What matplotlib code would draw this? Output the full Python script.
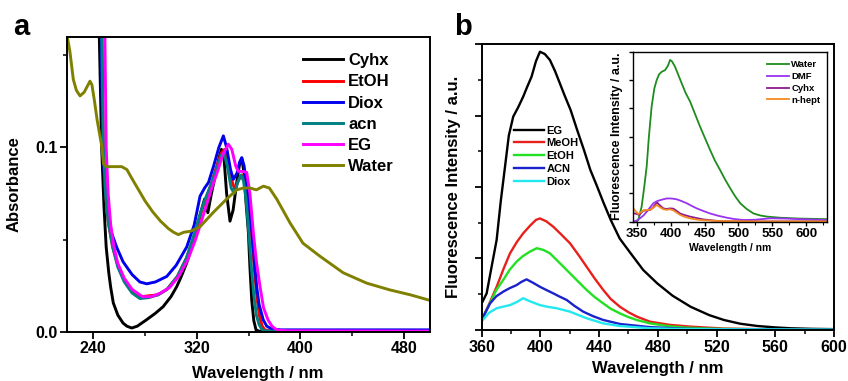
import numpy as np
import matplotlib
matplotlib.use('Agg')
import matplotlib.pyplot as plt
from matplotlib.ticker import MultipleLocator, NullFormatter

plt.rcParams['font.family'] = ['Liberation Sans', 'DejaVu Sans']
plt.rcParams['font.weight'] = 'bold'

# ---- panel a : absorbance ----
cyhx_x = [243, 244.7, 246.5, 248.3, 250, 252, 253.5, 255.5, 259, 263, 266, 269.7, 274, 281, 288, 294, 300, 304.5,
          308, 312, 316, 320, 323.5, 326, 328.5, 331, 334, 337, 339, 341, 343, 345.6, 348, 351, 353, 354.7, 356.5,
          358, 359.8, 361, 362.4, 364, 365.7, 368, 380, 420, 500]
cyhx_y = [0.20, 0.16, 0.10, 0.068, 0.046, 0.032, 0.024, 0.0156, 0.009, 0.0047, 0.003, 0.002, 0.003, 0.0064, 0.010,
          0.0136, 0.019, 0.0245, 0.030, 0.037, 0.046, 0.056, 0.066, 0.072, 0.0646, 0.074, 0.084, 0.094, 0.099, 0.094,
          0.075, 0.060, 0.066, 0.082, 0.091, 0.094, 0.086, 0.070, 0.054, 0.035, 0.017, 0.006, 0.001, 0.0003, 0, 0, 0]

etoh_x = [245.8, 246.8, 247.8, 249.5, 251.5, 255, 259, 264, 270, 277, 283, 290, 297, 305, 312, 318, 323, 327, 331,
          335, 339, 341.5, 344, 347, 349.5, 352, 354.5, 356.5, 358.5, 360.5, 362.5, 364.5, 366.5, 368.5, 370.5,
          372.5, 376, 385, 500]
etoh_y = [0.20, 0.16, 0.10, 0.075, 0.060, 0.046, 0.036, 0.028, 0.022, 0.019, 0.0195, 0.020, 0.023, 0.030, 0.040,
          0.052, 0.064, 0.072, 0.080, 0.089, 0.097, 0.099, 0.093, 0.082, 0.077, 0.082, 0.085, 0.084, 0.078, 0.066,
          0.050, 0.033, 0.018, 0.008, 0.003, 0.001, 0.0005, 0.0003, 0]

diox_x = [245, 246.2, 247.3, 249, 251, 254, 258, 263, 270, 276, 281.3, 288, 296.8, 304, 312.2, 318, 322.5, 326,
          329, 333, 337, 340.5, 343, 346, 348.2, 351, 353, 354.7, 356.5, 358, 359.8, 362, 364, 366.2, 368, 371.3,
          374, 377.8, 385, 420, 500]
diox_y = [0.20, 0.16, 0.10, 0.080, 0.066, 0.054, 0.046, 0.038, 0.031, 0.027, 0.026, 0.027, 0.030, 0.036, 0.046,
          0.058, 0.0736, 0.078, 0.081, 0.090, 0.100, 0.1063, 0.100, 0.088, 0.0827, 0.086, 0.092, 0.0945, 0.090,
          0.082, 0.072, 0.058, 0.042, 0.0245, 0.015, 0.0064, 0.003, 0.0015, 0.001, 0.001, 0.001]

acn_x = [245.5, 246.6, 247.8, 249.5, 251.5, 255, 259, 264, 270, 276, 283, 290, 297, 305, 312, 318, 323, 327, 331,
         335, 339, 341, 343.5, 346.5, 349, 351.5, 354, 356, 358, 360, 362, 364, 366, 368, 370, 372, 376, 385, 500]
acn_y = [0.20, 0.16, 0.10, 0.075, 0.060, 0.046, 0.035, 0.027, 0.021, 0.018, 0.0185, 0.020, 0.023, 0.030, 0.040,
         0.053, 0.065, 0.073, 0.080, 0.088, 0.096, 0.097, 0.090, 0.078, 0.075, 0.081, 0.085, 0.082, 0.072, 0.055,
         0.036, 0.020, 0.009, 0.004, 0.0015, 0.0005, 0.0003, 0.0002, 0]

eg_x = [248, 249, 250, 251.5, 253.5, 256, 259, 264, 270, 278, 285, 292, 299, 306, 313, 319, 324, 328, 332, 336,
        340, 344.3, 347, 350, 352, 355, 358.5, 361, 363.6, 366, 368.8, 371.5, 375, 378, 381.7, 390, 500]
eg_y = [0.20, 0.16, 0.10, 0.075, 0.058, 0.046, 0.037, 0.029, 0.023, 0.019, 0.019, 0.021, 0.024, 0.030, 0.039,
        0.050, 0.061, 0.070, 0.079, 0.087, 0.096, 0.1018, 0.099, 0.090, 0.087, 0.087, 0.0865, 0.075, 0.054, 0.038,
        0.0245, 0.013, 0.0064, 0.003, 0.001, 0.0005, 0.0003]

water_x = [220, 222, 224.6, 227, 229.8, 233, 236, 237.5, 239, 241, 243, 246.5, 248, 250, 256, 262, 266, 270, 275,
           280, 286, 292, 298, 302, 305.7, 310, 315, 322.5, 332.5, 343, 350.8, 356, 361, 366, 371.4, 376, 381.7,
           392, 402, 415, 433, 451, 469, 485, 495, 500]
water_y = [0.160, 0.152, 0.137, 0.131, 0.128, 0.130, 0.134, 0.136, 0.134, 0.125, 0.115, 0.101, 0.091, 0.0896,
           0.0896, 0.0896, 0.088, 0.083, 0.077, 0.071, 0.065, 0.060, 0.056, 0.054, 0.0527, 0.054, 0.0545, 0.057,
           0.0646, 0.072, 0.077, 0.078, 0.078, 0.077, 0.079, 0.078, 0.072, 0.059, 0.048, 0.041, 0.032, 0.0264,
           0.0227, 0.020, 0.018, 0.017]

# ---- panel b : fluorescence ----
fl_eg_x = [360, 363.4, 366, 370.2, 373, 375.9, 378.5, 381.5, 385, 388.3, 391, 394, 397, 399.7, 403, 406.5, 410,
           413.3, 416.5, 420.6, 425, 429.7, 434, 438.7, 443, 447.9, 454, 461.5, 470, 479.6, 490, 502.4, 515, 525,
           536, 547.7, 560, 570.5, 585, 600]
fl_eg_y = [0.093, 0.128, 0.20, 0.315, 0.45, 0.571, 0.68, 0.746, 0.78, 0.816, 0.85, 0.886, 0.94, 0.973, 0.965,
           0.944, 0.905, 0.862, 0.82, 0.769, 0.70, 0.629, 0.56, 0.501, 0.445, 0.385, 0.32, 0.268, 0.21, 0.163, 0.12,
           0.081, 0.052, 0.035, 0.022, 0.014, 0.009, 0.006, 0.004, 0.003]

fl_meoh_x = [360, 365, 370.2, 375, 379.3, 384, 388.3, 393, 397, 399.7, 404, 408.8, 414, 420.2, 426, 431.5, 437,
             442.8, 448, 454.2, 460, 465.6, 474.7, 488, 502.4, 525, 560, 600]
fl_meoh_y = [0.035, 0.09, 0.151, 0.215, 0.268, 0.308, 0.338, 0.365, 0.385, 0.39, 0.38, 0.361, 0.335, 0.303, 0.262,
             0.221, 0.18, 0.14, 0.108, 0.081, 0.062, 0.047, 0.029, 0.018, 0.0117, 0.005, 0.002, 0.001]

fl_etoh_x = [360, 365.7, 370, 374.7, 379, 383.8, 388, 392.9, 397.5, 402, 406.5, 413, 420.2, 426, 431.5, 437,
             442.8, 448, 454.2, 460, 465.6, 474.7, 488, 500, 520, 560, 600]
fl_etoh_y = [0.035, 0.094, 0.14, 0.175, 0.21, 0.239, 0.258, 0.274, 0.286, 0.28, 0.268, 0.235, 0.198, 0.168, 0.14,
             0.115, 0.093, 0.074, 0.058, 0.045, 0.035, 0.023, 0.013, 0.008, 0.004, 0.002, 0.001]

fl_acn_x = [360, 365.7, 370, 374.7, 379, 383.8, 387, 390.6, 395, 399.7, 404, 408.8, 413, 417.9, 423, 429.2, 436,
            442.8, 454.2, 474.7, 500, 540, 600]
fl_acn_y = [0.035, 0.093, 0.118, 0.134, 0.146, 0.157, 0.168, 0.177, 0.165, 0.151, 0.14, 0.128, 0.117, 0.105,
            0.085, 0.064, 0.048, 0.035, 0.021, 0.010, 0.004, 0.002, 0.001]

fl_diox_x = [360, 365, 370.2, 375, 379.3, 384, 388.3, 393, 399.7, 405, 411.1, 420.2, 426, 431.5, 442.8, 454,
             474.7, 500, 600]
fl_diox_y = [0.03, 0.06, 0.076, 0.082, 0.087, 0.098, 0.111, 0.10, 0.087, 0.081, 0.076, 0.064, 0.052, 0.041, 0.023,
             0.014, 0.006, 0.003, 0.001]

# ---- inset ----
in_water_x = [350, 352.4, 357.3, 361, 364.7, 368, 372, 376, 379.5, 383, 386.8, 391.8, 396, 399.2, 402, 406.5, 411,
              416.4, 422, 428.7, 436, 443.5, 451, 458.2, 465, 473, 480, 487.8, 495, 502.6, 512, 522.2, 532, 542,
              561.6, 590, 630]
in_water_y = [0.0, 0.06, 0.53, 1.2, 1.94, 3.0, 4.06, 4.7, 5.0, 5.2, 5.29, 5.35, 5.5, 5.71, 5.66, 5.47, 5.2, 4.88,
              4.55, 4.24, 3.8, 3.35, 2.93, 2.53, 2.17, 1.82, 1.5, 1.18, 0.9, 0.65, 0.45, 0.29, 0.22, 0.18, 0.14,
              0.11, 0.09]

in_dmf_x = [345, 350, 354.8, 360, 364.7, 369.6, 374.5, 379.5, 384.4, 389, 394.2, 400, 404, 409, 416, 423.8, 431,
            438.5, 448, 458.2, 470, 482.9, 495, 507.5, 525, 546.9, 570, 600, 630]
in_dmf_y = [0.0, 0.04, 0.12, 0.22, 0.35, 0.5, 0.65, 0.72, 0.76, 0.79, 0.82, 0.82, 0.81, 0.79, 0.73, 0.65, 0.56,
            0.47, 0.38, 0.29, 0.21, 0.14, 0.09, 0.06, 0.07, 0.12, 0.11, 0.08, 0.06]

in_cyhx_x = [345, 349, 353.9, 357, 359.8, 364, 369.6, 374, 377, 380.4, 384, 389.3, 394, 399.2, 404, 409, 414, 421,
             428.7, 438, 448.4, 460, 473, 500, 550, 630]
in_cyhx_y = [0.3, 0.28, 0.24, 0.32, 0.39, 0.4, 0.41, 0.5, 0.6, 0.67, 0.58, 0.47, 0.45, 0.47, 0.46, 0.38, 0.29,
             0.23, 0.18, 0.13, 0.08, 0.05, 0.02, 0.01, 0.01, 0.01]

in_hept_x = [345, 348, 352.4, 356, 360, 365, 369.6, 374, 379.5, 383, 389.3, 394, 399.2, 404, 409, 414, 421, 430,
             440, 450, 465, 480, 520, 630]
in_hept_y = [0.47, 0.38, 0.27, 0.33, 0.40, 0.41, 0.42, 0.48, 0.59, 0.53, 0.44, 0.42, 0.44, 0.40, 0.32, 0.24, 0.17,
             0.11, 0.07, 0.05, 0.03, 0.02, 0.01, 0.01]

fig = plt.figure(figsize=(8.48, 3.81), dpi=100)

# panel a
axa = fig.add_axes([0.0794, 0.1294, 0.4276, 0.7736])
lw = 2.1
axa.plot(cyhx_x, cyhx_y, color='black', lw=lw, label='Cyhx')
axa.plot(etoh_x, etoh_y, color='#ff0000', lw=lw, label='EtOH')
axa.plot(diox_x, diox_y, color='#0000ee', lw=lw, label='Diox')
axa.plot(acn_x, acn_y, color='#008080', lw=lw, label='acn')
axa.plot(eg_x, eg_y, color='#ff00ff', lw=lw, label='EG')
axa.plot(water_x, water_y, color='#808000', lw=lw, label='Water')
axa.set_xlim(220, 500)
axa.set_ylim(0, 0.16)
axa.set_xticks([240, 320, 400, 480])
axa.xaxis.set_minor_locator(MultipleLocator(40))
axa.yaxis.set_major_locator(MultipleLocator(0.1))
axa.yaxis.set_minor_locator(MultipleLocator(0.05))
axa.yaxis.set_major_formatter(plt.FuncFormatter(lambda v, p: '%.1f' % v))
axa.tick_params(which='major', direction='out', length=5, width=1.3, labelsize=11.5, pad=2)
axa.tick_params(which='minor', direction='out', length=3, width=1.1)
for lab in axa.get_xticklabels() + axa.get_yticklabels():
    lab.set_fontweight('bold')
for s in axa.spines.values():
    s.set_linewidth(1.4)
axa.set_xlabel('Wavelength / nm', fontsize=12, fontweight='bold')
axa.set_ylabel('Absorbance', fontsize=12, fontweight='bold')
axa.xaxis.set_label_coords(0.526, -0.115)
axa.yaxis.set_label_coords(-0.125, 0.5)
axa.legend(loc='upper left', bbox_to_anchor=(0.65, 0.945), frameon=False, fontsize=12,
           handlelength=2.4, handletextpad=0.3, labelspacing=0.37, borderpad=0, borderaxespad=0)

fig.text(13 / 848, 1 - 35 / 381, 'a', fontsize=21, fontweight='bold')
fig.text(454 / 848, 1 - 35 / 381, 'b', fontsize=21, fontweight='bold')

# panel b
axb = fig.add_axes([0.568, 0.1339, 0.4155, 0.7506])
lw = 1.7
axb.plot(fl_eg_x, fl_eg_y, color='black', lw=lw, label='EG')
axb.plot(fl_meoh_x, fl_meoh_y, color='#e8201c', lw=lw, label='MeOH')
axb.plot(fl_etoh_x, fl_etoh_y, color='#22e022', lw=lw, label='EtOH')
axb.plot(fl_acn_x, fl_acn_y, color='#1a22cc', lw=lw, label='ACN')
axb.plot(fl_diox_x, fl_diox_y, color='#22e8f0', lw=lw, label='Diox')
axb.set_xlim(360, 600)
axb.set_ylim(0, 1.0)
axb.xaxis.set_major_locator(MultipleLocator(40))
axb.xaxis.set_minor_locator(MultipleLocator(20))
axb.yaxis.set_major_locator(MultipleLocator(0.25))
axb.yaxis.set_minor_locator(MultipleLocator(0.125))
axb.yaxis.set_major_formatter(NullFormatter())
axb.tick_params(which='major', direction='out', length=5, width=1.3, labelsize=11.5, pad=2)
axb.tick_params(which='minor', direction='out', length=3, width=1.1)
for lab in axb.get_xticklabels():
    lab.set_fontweight('bold')
for s in axb.spines.values():
    s.set_linewidth(1.4)
axb.set_xlabel('Wavelength / nm', fontsize=12, fontweight='bold')
axb.set_ylabel('Fluorescence Intensity / a.u.', fontsize=12, fontweight='bold')
axb.xaxis.set_label_coords(0.5, -0.11)
axb.yaxis.set_label_coords(-0.06, 0.5)
axb.legend(loc='upper left', bbox_to_anchor=(0.092, 0.715), frameon=False, fontsize=8,
           handlelength=2.7, handletextpad=0.2, labelspacing=0.25, borderpad=0, borderaxespad=0)

# inset
axi = fig.add_axes([0.7468, 0.4181, 0.2281, 0.4462])
lw = 1.3
axi.plot(in_water_x, in_water_y, color='#1e8c1e', lw=lw, label='Water')
axi.plot(in_dmf_x, in_dmf_y, color='#9933ee', lw=lw, label='DMF')
axi.plot(in_cyhx_x, in_cyhx_y, color='#8c1a8c', lw=lw, label='Cyhx')
axi.plot(in_hept_x, in_hept_y, color='#f58a1f', lw=lw, label='n-hept')
axi.set_xlim(345, 630)
axi.set_ylim(0, 6)
axi.xaxis.set_major_locator(MultipleLocator(50))
axi.xaxis.set_minor_locator(MultipleLocator(25))
axi.yaxis.set_major_locator(MultipleLocator(1))
axi.yaxis.set_major_formatter(NullFormatter())
axi.tick_params(which='major', direction='out', length=3, width=1.0, labelsize=9.5, pad=1.5)
axi.tick_params(which='minor', direction='out', length=2, width=0.8)
for lab in axi.get_xticklabels():
    lab.set_fontweight('bold')
for s in axi.spines.values():
    s.set_linewidth(1.0)
axi.set_xlabel('Wavelength / nm', fontsize=7.5, fontweight='bold', labelpad=2)
axi.set_ylabel('Fluorescence Intensity / a.u.', fontsize=9, fontweight='bold', labelpad=3)
axi.legend(loc='upper left', bbox_to_anchor=(0.69, 0.95), frameon=False, fontsize=6.8,
           handlelength=2.4, handletextpad=0.2, labelspacing=0.3, borderpad=0, borderaxespad=0)

fig.savefig('out.png', dpi=100)
